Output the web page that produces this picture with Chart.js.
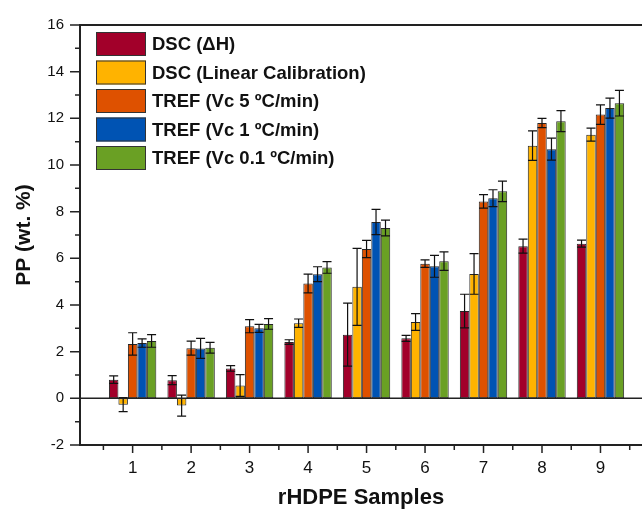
<!DOCTYPE html>
<html><head><meta charset="utf-8">
<script src="https://cdn.jsdelivr.net/npm/chart.js@4.4.0/dist/chart.umd.min.js"></script>
<style>html,body{margin:0;padding:0;background:#fff;overflow:hidden}</style>
</head><body>
<canvas id="c" width="642" height="514"></canvas>
<script>
// ---- data ----
const samples = [1, 2, 3, 4, 5, 6, 7, 8, 9];
const yTickValues = [-2, 0, 2, 4, 6, 8, 10, 12, 14, 16];
const seriesNames = ['DSC (\u0394H)', 'DSC (Linear Calibration)', 'TREF (Vc 5 \u00baC/min)', 'TREF (Vc 1 \u00baC/min)', 'TREF (Vc 0.1 \u00baC/min)'];
const dscH      = [0.80, 0.78, 1.28, 2.41, 2.73, 2.57, 3.74, 6.52, 6.63];
const dscHErr   = [0.16, 0.19, 0.12, 0.10, 1.35, 0.13, 0.72, 0.30, 0.15];
const dscLin    = [-0.27, -0.31, 0.55, 3.22, 4.78, 3.27, 5.33, 10.83, 11.30];
const dscLinErr = [0.30, 0.45, 0.47, 0.18, 1.65, 0.36, 0.87, 0.63, 0.28];
const tref5     = [2.33, 2.15, 3.09, 4.92, 6.40, 5.77, 8.44, 11.80, 12.16];
const tref5Err  = [0.48, 0.30, 0.28, 0.40, 0.37, 0.16, 0.29, 0.20, 0.42];
const tref1     = [2.37, 2.14, 3.00, 5.32, 7.56, 5.66, 8.58, 10.68, 12.44];
const tref1Err  = [0.18, 0.43, 0.17, 0.32, 0.54, 0.47, 0.36, 0.47, 0.43];
const tref01    = [2.46, 2.17, 3.19, 5.61, 7.30, 5.88, 8.87, 11.88, 12.65];
const tref01Err = [0.27, 0.23, 0.23, 0.25, 0.34, 0.40, 0.44, 0.45, 0.55];

const colors = ['#A2002A', '#FFB300', '#DE5100', '#0053B3', '#6AA024'];
const values = [dscH, dscLin, tref5, tref1, tref01];
const errors = [dscHErr, dscLinErr, tref5Err, tref1Err, tref01Err];
const FONT = '"Liberation Sans", Arial, sans-serif';

const datasets = values.map((vals, i) => ({
  label: seriesNames[i],
  data: samples.map((s, j) => ({ x: s, y: vals[j] })),
  errors: errors[i],
  backgroundColor: colors[i],
  borderColor: '#262626',
  borderWidth: 1,
  borderSkipped: false,
  categoryPercentage: 0.81,
  barPercentage: 1.0
}));

const framePlugin = {
  id: 'frame',
  afterDatasetsDraw(chart) {
    const ctx = chart.ctx;
    const ca = chart.chartArea;
    const xs = chart.scales.x, ys = chart.scales.y;
    ctx.save();
    // error bars
    ctx.strokeStyle = '#111';
    ctx.lineWidth = 1.2;
    chart.data.datasets.forEach((ds, di) => {
      const meta = chart.getDatasetMeta(di);
      meta.data.forEach((el, j) => {
        const v = ds.data[j].y, e = ds.errors[j];
        const yT = ys.getPixelForValue(v + e);
        const yB = ys.getPixelForValue(v - e);
        const hw = Math.min(4.5, el.width / 2);
        ctx.beginPath();
        ctx.moveTo(el.x, yT); ctx.lineTo(el.x, yB);
        ctx.moveTo(el.x - hw, yT); ctx.lineTo(el.x + hw, yT);
        ctx.moveTo(el.x - hw, yB); ctx.lineTo(el.x + hw, yB);
        ctx.stroke();
      });
    });
    // zero line
    ctx.strokeStyle = '#222';
    ctx.lineWidth = 1.5;
    const y0 = ys.getPixelForValue(0);
    ctx.beginPath(); ctx.moveTo(ca.left, y0); ctx.lineTo(ca.right, y0); ctx.stroke();
    // frame
    ctx.lineWidth = 2;
    ctx.beginPath();
    ctx.moveTo(ca.right, ca.top); ctx.lineTo(ca.left, ca.top);
    ctx.lineTo(ca.left, ca.bottom); ctx.lineTo(ca.right, ca.bottom);
    ctx.stroke();
    // ticks
    ctx.lineWidth = 1.5;
    ctx.beginPath();
    for (let v = ys.min; v <= ys.max; v += 1) {
      const p = ys.getPixelForValue(v);
      const len = (v % 2 === 0) ? 10 : 5;
      ctx.moveTo(ca.left - len, p); ctx.lineTo(ca.left, p);
    }
    for (let v = 0.5; v <= xs.max; v += 0.5) {
      if (v < xs.min) continue;
      const p = xs.getPixelForValue(v);
      const len = Number.isInteger(v) ? 8 : 5;
      ctx.moveTo(p, ca.bottom); ctx.lineTo(p, ca.bottom + len);
    }
    ctx.stroke();
    ctx.restore();
  },
  afterDraw(chart) {
    const ctx = chart.ctx;
    ctx.save();
    ctx.font = 'bold 18.5px ' + FONT;
    ctx.textBaseline = 'middle';
    ctx.textAlign = 'left';
    chart.data.datasets.forEach((ds, i) => {
      const cy = 44 + i * 28.5;
      ctx.fillStyle = ds.backgroundColor;
      ctx.fillRect(96, cy - 12, 50, 24);
      ctx.strokeStyle = '#333';
      ctx.lineWidth = 1;
      ctx.strokeRect(96.5, cy - 11.5, 49, 23);
      ctx.fillStyle = '#111';
      ctx.fillText(ds.label, 152, cy + 1);
    });
    ctx.restore();
  }
};

new Chart(document.getElementById('c'), {
  type: 'bar',
  data: { datasets },
  options: {
    responsive: false,
    animation: false,
    devicePixelRatio: 1,
    layout: { padding: { top: 22, right: 0, left: 0, bottom: 0 } },
    plugins: { legend: { display: false }, tooltip: { enabled: false } },
    scales: {
      x: {
        type: 'linear',
        min: 0.1,
        max: 9.71,
        offset: false,
        grid: { display: false, drawTicks: false },
        border: { display: false },
        afterBuildTicks: s => { s.ticks = samples.map(v => ({ value: v })); },
        afterFit: s => { s.height = 69; },
        ticks: { color: '#111', font: { family: FONT, size: 17 }, padding: 13, maxRotation: 0, callback: v => String(v) },
        title: { display: true, text: 'rHDPE Samples', color: '#111', font: { family: FONT, size: 22, weight: 'bold' }, padding: { top: 0, bottom: 3 } }
      },
      y: {
        min: -2,
        max: 16,
        grid: { display: false, drawTicks: false },
        border: { display: false },
        afterBuildTicks: s => { s.ticks = yTickValues.map(v => ({ value: v })); },
        afterFit: s => { s.width = 80; },
        ticks: { color: '#111', font: { family: FONT, size: 15 }, padding: 16 },
        title: { display: true, text: 'PP (wt. %)', color: '#111', font: { family: FONT, size: 21, weight: 'bold' }, padding: { top: 12, bottom: 0 } }
      }
    }
  },
  plugins: [framePlugin]
});
</script>
</body></html>
